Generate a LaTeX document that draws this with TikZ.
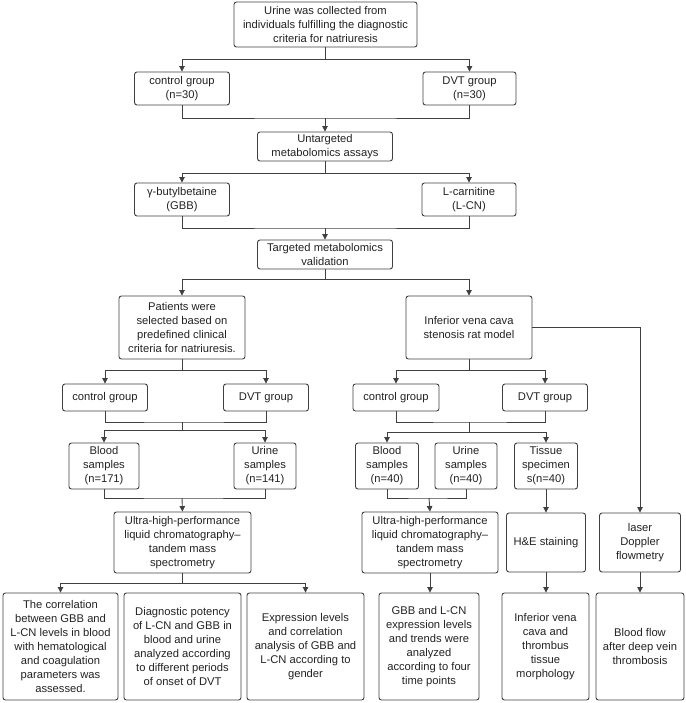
\documentclass[tikz,border=0pt]{standalone}
\usepackage{fontspec}
\setmainfont{Liberation Sans}
\usepackage{tikz}
\usetikzlibrary{positioning,arrows.meta,calc}
\definecolor{linegray}{HTML}{404040}
\definecolor{textgray}{HTML}{222222}
\tikzset{flow/.style={>={Triangle[length=5.5pt,width=5.5pt]},line width=0.9pt,draw=linegray,x=1pt,y=-1pt,
        font=\fontsize{11.2}{14}\selectfont},
    box/.style={draw=linegray,rounded corners=2.5pt,align=center,inner sep=0pt,text=textgray},
    small/.style={box,minimum width=95,minimum height=33},
    wide/.style={box,minimum width=135,minimum height=29},
    sample/.style={box,minimum width=63,minimum height=46},
    result/.style={box,minimum height=107}}

\begin{document}
\begin{tikzpicture}[flow]
    \useasboundingbox (0,0) rectangle (685,703);
    % untargeted part
    \node[box,minimum width=183,minimum height=45](urine) at (325.5,24.5)
        {Urine was collected from\\individuals fulfilling the diagnostic\\criteria for natriuresis};
    \node[small](ctrlA) at (182,88.5){control group\\(n=30)};
    \node[small,minimum width=93](dvtA) at (469.5,88.5){DVT group\\(n=30)};
    \node[wide](untar) at (325,146.5){Untargeted\\metabolomics assays};
    \node[small](gbb) at (182,199.5){γ-butylbetaine\\(GBB)};
    \node[small,minimum width=94](lcn) at (469,199.5){L-carnitine\\(L-CN)};
    \node[wide](targ) at (325,254.5){Targeted metabolomics\\validation};
    % patients and rat model
    \node[box,minimum width=126,minimum height=63](pat) at (182,327.5)
        {Patients were\\selected based on\\predefined clinical\\criteria for natriuresis.};
    \node[box,minimum width=126,minimum height=63](ivc) at (469,327.5)
        {Inferior vena cava\\stenosis rat model};
    \node[box,minimum width=85,minimum height=27](ctrlB) at (105,397.5){control group};
    \node[box,minimum width=85,minimum height=27](dvtB) at (266,397.5){DVT group};
    \node[box,minimum width=86,minimum height=27](ctrlC) at (396,397.5){control group};
    \node[box,minimum width=85,minimum height=27](dvtC) at (545,397.5){DVT group};
    \node[sample,minimum width=70](bloodB) at (104,466){Blood\\samples\\(n=171)};
    \node[sample,minimum width=62](urineB) at (265,466){Urine\\samples\\(n=141)};
    \node[sample](bloodC) at (387,466){Blood\\samples\\(n=40)};
    \node[sample,minimum width=62](urineC) at (466,466){Urine\\samples\\(n=40)};
    \node[sample](tissue) at (546,466){Tissue\\specimen\\s(n=40)};
    \node[box,minimum width=137,minimum height=61](uplcB) at (182.5,542.5)
        {Ultra-high-performance\\liquid chromatography–\\tandem mass\\spectrometry};
    \node[box,minimum width=136,minimum height=61](uplcC) at (430,542.5)
        {Ultra-high-performance\\liquid chromatography–\\tandem mass\\spectrometry};
    \node[box,minimum width=79,minimum height=59](he) at (546,542.5){H\&E staining};
    \node[box,minimum width=81,minimum height=59](laser) at (640,542.5){laser\\Doppler\\flowmetry};
    % results
    \node[result,minimum width=115](corr) at (60.5,646.5)
        {The correlation\\between GBB and\\L-CN levels in blood\\with hematological\\and coagulation\\parameters was\\assessed.};
    \node[result,minimum width=117](diag) at (182.5,646.5)
        {Diagnostic potency\\of L-CN and GBB in\\blood and urine\\analyzed according\\to different periods\\of onset of DVT};
    \node[result,minimum width=117](gender) at (305.5,646.5)
        {Expression levels\\and correlation\\analysis of GBB and\\L-CN according to\\gender};
    \node[result,minimum width=100](trend) at (429,646.5)
        {GBB and L-CN\\expression levels\\and trends were\\analyzed\\according to four\\time points};
    \node[result,minimum width=87](morph) at (545.5,646.5)
        {Inferior vena\\cava and\\thrombus\\tissue\\morphology};
    \node[result,minimum width=88](bflow) at (640,646.5)
        {Blood flow\\after deep vein\\thrombosis};

    \coordinate (jA) at (325,118);
    \coordinate (jB) at (325,228);
    \coordinate (jC) at (182,422);
    \coordinate (jD) at (469,422);
    \coordinate (jE) at (182,498);
    \coordinate (jF) at (429,498);

    \draw[->] (urine.south) -- ++(0,12) -| (ctrlA.north);
    \draw[->] (urine.south) -- ++(0,12) -| (dvtA.north);
    \draw (ctrlA.south) |- (jA) -| (dvtA.south);
    \draw[->] (jA) -- (untar.north);
    \draw[->] (untar.south) -- ++(0,12) -| (gbb.north);
    \draw[->] (untar.south) -- ++(0,12) -| (lcn.north);
    \draw (gbb.south) |- (jB) -| (lcn.south);
    \draw[->] (jB) -- (targ.north);
    \draw[->] (targ.south) -- ++(0,10) -| (pat.north);
    \draw[->] (targ.south) -- ++(0,10) -| (ivc.north);
    \draw[->] (pat.south) -- ++(0,11) -| (ctrlB.north);
    \draw[->] (pat.south) -- ++(0,11) -| (dvtB.north);
    \draw[->] (ivc.south) -- ++(0,11) -| (ctrlC.north);
    \draw[->] (ivc.south) -- ++(0,11) -| (dvtC.north);
    \draw[->] (ivc.east) -| (laser.north);
    \draw (ctrlB.south) |- (jC) -| (dvtB.south);
    \draw (ctrlC.south) |- (jD) -| (dvtC.south);
    \draw[->] (jC) -- ++(0,8) -| (bloodB.north);
    \draw[->] (jC) -- ++(0,8) -| (urineB.north);
    \draw[->] (jD) -- ++(0,10) -| (bloodC.north);
    \draw[->] (jD) -- ++(0,10) -| (tissue.north);
    \draw (bloodB.south) |- (jE) -| (urineB.south);
    \draw[->] (jE) -- (uplcB.north);
    \draw (bloodC.south) |- (jF) -| (urineC.south);
    \draw[->] (jF) -- (uplcC.north);
    \draw[->] (tissue) -- (he);
    \draw[->] (uplcB.south) -- ++(0,10) -| (corr.north);
    \draw[->] (uplcB.south) -- ++(0,10) -| (gender.north);
    \draw[->] (uplcC) -- (uplcC |- trend.north);
    \draw[->] (he) -- (he |- morph.north);
    \draw[->] (laser) -- (bflow);
\end{tikzpicture}
\end{document}
